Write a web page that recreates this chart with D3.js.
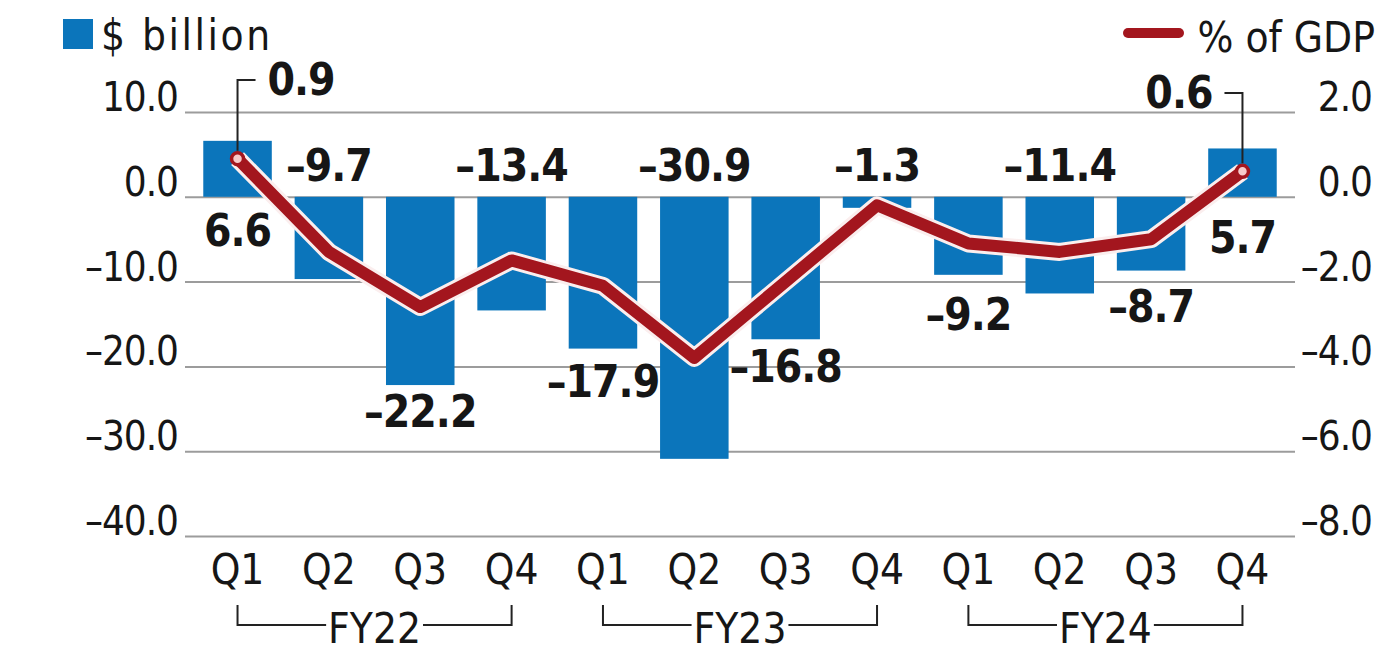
<!DOCTYPE html>
<html>
<head>
<meta charset="utf-8">
<script src="https://cdn.jsdelivr.net/npm/d3@7"></script>
<style>
  body { margin: 0; background: #fff; }
  text { font-family: 'Liberation Sans Narrow', 'DejaVu Sans Condensed', sans-serif; fill: #161616; }
  .tick text { font-size: 40px; letter-spacing: -1px; }
  .val { font-size: 44px; font-weight: bold; letter-spacing: -1px; }
</style>
</head>
<body>
<div id="chart"></div>
<script>
const quarters = ['Q1', 'Q2', 'Q3', 'Q4', 'Q1', 'Q2', 'Q3', 'Q4', 'Q1', 'Q2', 'Q3', 'Q4']
const fiscalYears = ['FY22', 'FY23', 'FY24']
const balanceBn = [6.6, -9.7, -22.2, -13.4, -17.9, -30.9, -16.8, -1.3, -9.2, -11.4, -8.7, 5.7]
const pctGdp = [0.9, -1.3, -2.6, -1.5, -2.1, -3.8, -2.0, -0.2, -1.1, -1.3, -1.0, 0.6]
const leftTicks = [10, 0, -10, -20, -30, -40]
const rightTicks = [2, 0, -2, -4, -6, -8]

// where each bar label sits, and how far below its bar (layout only)
const labelSide = ['below', 'top', 'below', 'top', 'below', 'top', 'below', 'top', 'below', 'top', 'below', 'below']
const labelGap = [49, 0, 42, 0, 48, 0, 43, 0, 55, 0, 51, 56]

const width = 1386
const height = 657
const left = 185
const right = 1295

const svg = d3
  .select('#chart')
  .append('svg')
  .attr('width', width)
  .attr('height', height)

const ids = quarters.map((q, i) => i)

const xPositionScale = d3
  .scaleBand()
  .domain(ids)
  .range([left, right])
  .paddingInner(0.25)
  .paddingOuter(0.2)

const yLeft = d3.scaleLinear().domain([-40, 10]).range([536, 112])
const yRight = d3.scaleLinear().domain([-8, 2]).range([536, 112])

const fmt = d3.format('.1f')
const valFmt = d => fmt(d).replace('\u2212', '\u2013')

// left axis + gridlines
const yAxis = d3
  .axisLeft(yLeft)
  .tickValues(leftTicks)
  .tickSize(-(right - left))
  .tickPadding(7)
  .tickFormat(valFmt)
svg
  .append('g')
  .attr('class', 'axis y-axis')
  .attr('transform', 'translate(' + left + ',0)')
  .call(yAxis)
svg.selectAll('.y-axis path').remove()
svg
  .selectAll('.y-axis line')
  .attr('stroke', '#9c9c9c')
  .attr('stroke-width', 2)
svg.selectAll('.y-axis text').attr('dy', '-0.04em')

// right axis (labels only)
const yAxisRight = d3
  .axisRight(yRight)
  .tickValues(rightTicks)
  .tickSize(0)
  .tickFormat(valFmt)
svg
  .append('g')
  .attr('class', 'axis y-axis-right')
  .attr('transform', 'translate(' + right + ',0)')
  .call(yAxisRight)
svg.selectAll('.y-axis-right path').remove()
svg
  .selectAll('.y-axis-right text')
  .attr('x', 77)
  .attr('text-anchor', 'end')
  .attr('dy', '-0.04em')

// bars
svg
  .selectAll('.bar')
  .data(balanceBn)
  .enter()
  .append('rect')
  .attr('class', 'bar')
  .attr('x', (d, i) => xPositionScale(i))
  .attr('width', xPositionScale.bandwidth())
  .attr('y', d => yLeft(Math.max(d, 0)))
  .attr('height', d => Math.abs(yLeft(d) - yLeft(0)))
  .attr('fill', '#0b75bb')

// line with white halo
const cx = i => xPositionScale(i) + xPositionScale.bandwidth() / 2
const line = d3
  .line()
  .x((d, i) => cx(i))
  .y(d => yRight(d))

svg
  .append('path')
  .datum(pctGdp)
  .attr('d', line)
  .attr('fill', 'none')
  .attr('stroke', '#fbeeee')
  .attr('stroke-width', 18)
  .attr('stroke-linejoin', 'round')

svg
  .append('path')
  .datum(pctGdp)
  .attr('d', line)
  .attr('fill', 'none')
  .attr('stroke', '#a3161e')
  .attr('stroke-width', 12)
  .attr('stroke-linejoin', 'round')

// end markers
const ends = [0, pctGdp.length - 1]

svg
  .selectAll('.dot')
  .data(ends)
  .enter()
  .append('circle')
  .attr('class', 'dot')
  .attr('cx', cx)
  .attr('cy', i => yRight(pctGdp[i]))
  .attr('r', 6)
  .attr('fill', '#f7caca')
  .attr('stroke', '#a3161e')
  .attr('stroke-width', 3.5)

// leader lines to end values
const leaderY = [80, 93]
ends.forEach((i, k) => {
  const x0 = cx(i)
  const y0 = yRight(pctGdp[i]) - 8
  const dir = k === 0 ? 1 : -1
  svg
    .append('path')
    .attr('d', 'M' + x0 + ',' + y0 + 'V' + leaderY[k] + 'H' + (x0 + dir * 18))
    .attr('fill', 'none')
    .attr('stroke', '#222')
    .attr('stroke-width', 2)
  svg
    .append('text')
    .attr('class', 'val')
    .attr('x', x0 + dir * 30)
    .attr('y', leaderY[k] + 15)
    .attr('text-anchor', k === 0 ? 'start' : 'end')
    .text(valFmt(pctGdp[i]))
})

// bar value labels
svg
  .selectAll('.bar-label')
  .data(balanceBn)
  .enter()
  .append('text')
  .attr('class', 'val bar-label')
  .attr('text-anchor', 'middle')
  .attr('x', (d, i) => cx(i))
  .attr('y', (d, i) => {
    if (labelSide[i] === 'top') return yLeft(0) - 16
    return yLeft(Math.min(d, 0)) + labelGap[i]
  })
  .text(valFmt)

// quarter labels
svg
  .selectAll('.q-label')
  .data(quarters)
  .enter()
  .append('text')
  .attr('class', 'q-label')
  .attr('x', (d, i) => cx(i))
  .attr('y', 584)
  .attr('text-anchor', 'middle')
  .style('font-size', '42px')
  .text(d => d)

// fiscal year brackets
fiscalYears.forEach((fy, k) => {
  const xa = cx(k * 4)
  const xb = cx(k * 4 + 3)
  const mid = (xa + xb) / 2
  const t = svg
    .append('text')
    .attr('x', mid)
    .attr('y', 643)
    .attr('text-anchor', 'middle')
    .style('font-size', '42px')
    .text(fy)
  const half = t.node().getComputedTextLength() / 2 + 2
  svg
    .append('path')
    .attr('d', 'M' + xa + ',605V625H' + (mid - half) + 'M' + (mid + half) + ',625H' + xb + 'V605')
    .attr('fill', 'none')
    .attr('stroke', '#222')
    .attr('stroke-width', 2)
})

// legend
svg
  .append('rect')
  .attr('x', 63)
  .attr('y', 19)
  .attr('width', 30)
  .attr('height', 30)
  .attr('fill', '#0b75bb')
svg
  .append('text')
  .attr('x', 101)
  .attr('y', 50)
  .style('font-size', '42px')
  .style('letter-spacing', '2.5px')
  .text('$ billion')

svg
  .append('line')
  .attr('x1', 1128)
  .attr('x2', 1179)
  .attr('y1', 33)
  .attr('y2', 33)
  .attr('stroke', '#a3161e')
  .attr('stroke-width', 10)
  .attr('stroke-linecap', 'round')
svg
  .append('text')
  .attr('x', 1375)
  .attr('y', 52)
  .attr('text-anchor', 'end')
  .style('font-size', '42px')
  .text('% of GDP')
</script>
</body>
</html>
